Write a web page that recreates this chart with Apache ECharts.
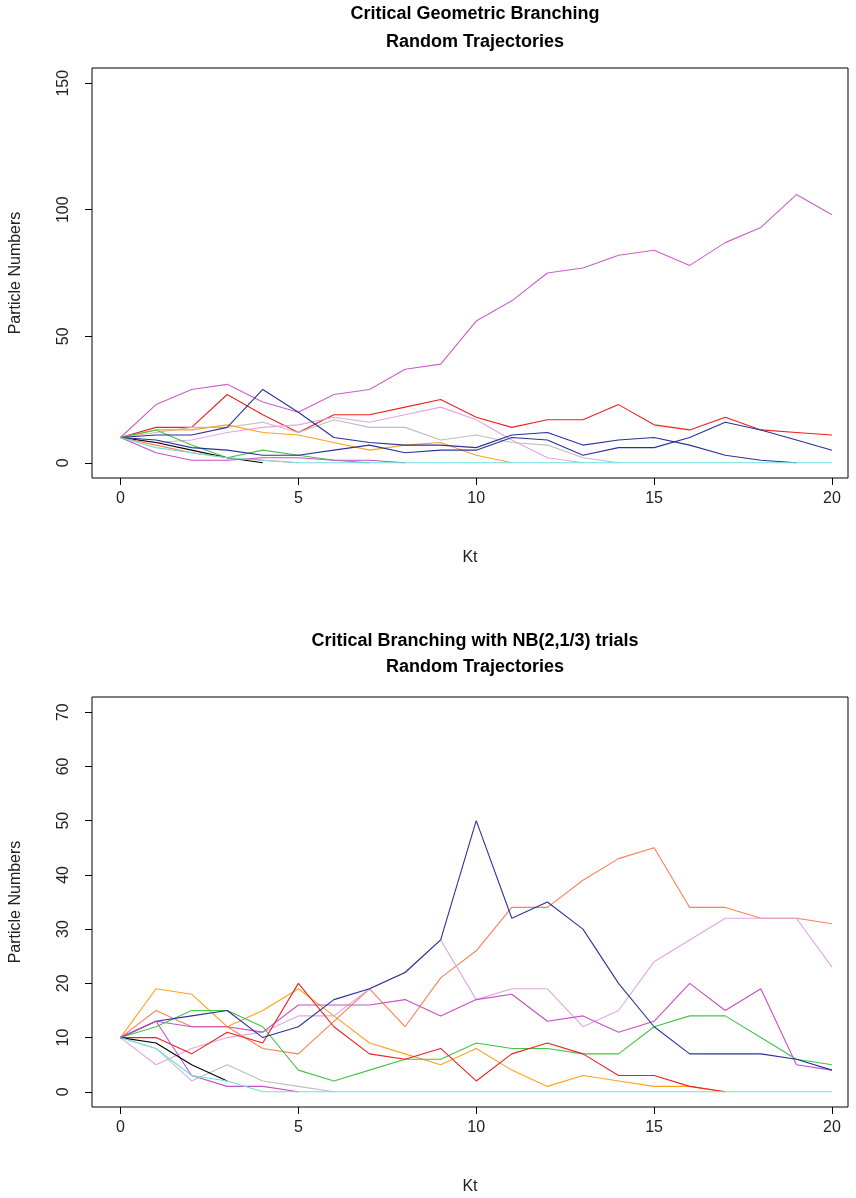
<!DOCTYPE html>
<html>
<head>
<meta charset="utf-8">
<script src="https://cdn.jsdelivr.net/npm/echarts@6/dist/echarts.min.js"></script>
<style>
  html, body { margin: 0; padding: 0; background: #fff; }
  #chart { width: 856px; height: 1198px; }
</style>
</head>
<body>
<div id="chart"></div>
<script>
// Generation index (Kt) runs 0..20; each array is one simulated trajectory.
const xTicks = [0, 5, 10, 15, 20];
const yTicksTop = [0, 50, 100, 150];
const yTicksBottom = [0, 10, 20, 30, 40, 50, 60, 70];

// Critical geometric branching trajectories
const geoOrchid  = [10, 23, 29, 31, 24, 20, 27, 29, 37, 39, 56, 64, 75, 77, 82, 84, 78, 87, 93, 106, 98];
const geoRed     = [10, 14, 14, 27, 19, 12, 19, 19, 22, 25, 18, 14, 17, 17, 23, 15, 13, 18, 13, 12, 11];
const geoBlueA   = [10, 11, 11, 14, 29, 20, 10, 8, 7, 7, 6, 11, 12, 7, 9, 10, 7, 3, 1, 0];
const geoBlueB   = [10, 9, 6, 5, 3, 3, 5, 7, 4, 5, 5, 10, 9, 3, 6, 6, 10, 16, 13, 9, 5];
const geoGray    = [10, 12, 14, 14, 16, 12, 17, 14, 14, 9, 11, 8, 7, 2, 0];
const geoPlum    = [10, 8, 9, 12, 14, 15, 18, 16, 19, 22, 17, 9, 2, 0];
const geoOrange  = [10, 13, 13, 15, 12, 11, 8, 5, 7, 8, 3, 0];
const geoGreen   = [10, 13, 7, 2, 5, 3, 1, 0];
const geoBlack   = [10, 8, 5, 2, 0];
const geoCoral   = [10, 7, 4, 2, 1, 0];
const geoMagenta = [10, 4, 1, 1, 2, 2, 1, 1, 0];
const geoCyan    = [10, 6, 4, 2, 1, 0, 0, 0, 0, 0, 0, 0, 0, 0, 0, 0, 0, 0, 0, 0, 0];

// Critical branching with NB(2,1/3) offspring
const nbBlue    = [10, 13, 14, 15, 10, 12, 17, 19, 22, 28, 50, 32, 35, 30, 20, 12, 7, 7, 7, 6, 4];
const nbCoral   = [10, 15, 12, 12, 8, 7, 13, 19, 12, 21, 26, 34, 34, 39, 43, 45, 34, 34, 32, 32, 31];
const nbPlum    = [10, 5, 8, 10, 11, 14, 14, 19, 22, 28, 17, 19, 19, 12, 15, 24, 28, 32, 32, 32, 23];
const nbOrchid  = [10, 13, 12, 12, 11, 16, 16, 16, 17, 14, 17, 18, 13, 14, 11, 13, 20, 15, 19, 5, 4];
const nbGreen   = [10, 12, 15, 15, 12, 4, 2, 4, 6, 6, 9, 8, 8, 7, 7, 12, 14, 14, 10, 6, 5];
const nbRed     = [10, 10, 7, 11, 9, 20, 12, 7, 6, 8, 2, 7, 9, 7, 3, 3, 1, 0];
const nbOrange  = [10, 19, 18, 12, 15, 19, 14, 9, 7, 5, 8, 4, 1, 3, 2, 1, 1, 0];
const nbMagenta = [10, 13, 3, 1, 1, 0];
const nbGray    = [10, 8, 2, 5, 2, 1, 0];
const nbBlack   = [10, 9, 5, 2];
const nbCyan    = [10, 8, 3, 2, 0, 0, 0, 0, 0, 0, 0, 0, 0, 0, 0, 0, 0, 0, 0, 0, 0];

const COLORS = {
  orchid: '#cc5fcc', red: '#ee2020', blue: '#2a3399', gray: '#bebebe',
  plum: '#e2a6e2', orange: '#ffa21a', green: '#44c444', black: '#000000',
  coral: '#ff7f55', magenta: '#c64fc6', cyan: '#6fdede'
};

const topSet = [
  [geoOrchid, 'orchid'], [geoRed, 'red'], [geoGray, 'gray'], [geoPlum, 'plum'],
  [geoOrange, 'orange'], [geoGreen, 'green'], [geoBlack, 'black'], [geoCoral, 'coral'],
  [geoMagenta, 'magenta'], [geoBlueA, 'blue'], [geoBlueB, 'blue'], [geoCyan, 'cyan']
];
const bottomSet = [
  [nbOrange, 'orange'], [nbCoral, 'coral'], [nbPlum, 'plum'], [nbOrchid, 'magenta'],
  [nbGreen, 'green'], [nbRed, 'red'], [nbBlue, 'blue'], [nbMagenta, 'magenta'],
  [nbGray, 'gray'], [nbBlack, 'black'], [nbCyan, 'cyan']
];

const FONT = '"Liberation Sans", Arial, sans-serif';

function makeSeries(set, axisIndex) {
  return set.map(([vals, c]) => ({
    type: 'line',
    xAxisIndex: axisIndex,
    yAxisIndex: axisIndex,
    data: vals.map((v, i) => [i, v]),
    showSymbol: false,
    symbol: 'none',
    lineStyle: { color: COLORS[c], width: 1.1 },
    emphasis: { disabled: true },
    silent: true
  }));
}

function xAxisFor(gridIndex) {
  return {
    gridIndex, type: 'value', min: -0.8, max: 20.45, position: 'bottom',
    name: 'Kt', nameLocation: 'middle', nameGap: 72,
    nameTextStyle: { fontFamily: FONT, fontSize: 16, color: '#222' },
    axisLine: { show: false, onZero: false },
    splitLine: { show: false },
    axisTick: { show: true, inside: false, length: 7, customValues: xTicks,
                lineStyle: { color: '#000', width: 1 } },
    axisLabel: { customValues: xTicks, margin: 13, fontFamily: FONT, fontSize: 16, color: '#222' }
  };
}

function yAxisFor(gridIndex, lo, hi, ticks) {
  return {
    gridIndex, type: 'value', min: lo, max: hi, position: 'left',
    name: 'Particle Numbers', nameLocation: 'middle', nameGap: 68, nameRotate: 90,
    nameTextStyle: { fontFamily: FONT, fontSize: 16, color: '#222' },
    axisLine: { show: false, onZero: false },
    splitLine: { show: false },
    axisTick: { show: true, inside: false, length: 7, customValues: ticks,
                lineStyle: { color: '#000', width: 1 } },
    axisLabel: { customValues: ticks, rotate: 90, margin: 20, fontFamily: FONT, fontSize: 16, color: '#222' }
  };
}

const titleStyleTop = { fontFamily: FONT, fontSize: 18, fontWeight: 'bold', color: '#000', lineHeight: 28 };
const titleStyleBottom = { fontFamily: FONT, fontSize: 18, fontWeight: 'bold', color: '#000', lineHeight: 26 };

const chart = echarts.init(document.getElementById('chart'), null, { renderer: 'canvas' });
chart.setOption({
  animation: false,
  backgroundColor: '#fff',
  title: [
    { text: 'Critical Geometric Branching\nRandom Trajectories', left: 475, top: 0,
      textAlign: 'center', textStyle: titleStyleTop, padding: 0 },
    { text: 'Critical Branching with NB(2,1/3) trials\nRandom Trajectories', left: 475, top: 628,
      textAlign: 'center', textStyle: titleStyleBottom, padding: 0 }
  ],
  grid: [
    { left: 90, top: 68, width: 758, height: 410, show: true, borderColor: '#000', borderWidth: 1, backgroundColor: 'transparent' },
    { left: 90, top: 697, width: 758, height: 410, show: true, borderColor: '#000', borderWidth: 1, backgroundColor: 'transparent' }
  ],
  xAxis: [xAxisFor(0), xAxisFor(1)],
  yAxis: [yAxisFor(0, -6, 156, yTicksTop), yAxisFor(1, -2.8, 72.8, yTicksBottom)],
  series: makeSeries(topSet, 0).concat(makeSeries(bottomSet, 1))
});
</script>
</body>
</html>
